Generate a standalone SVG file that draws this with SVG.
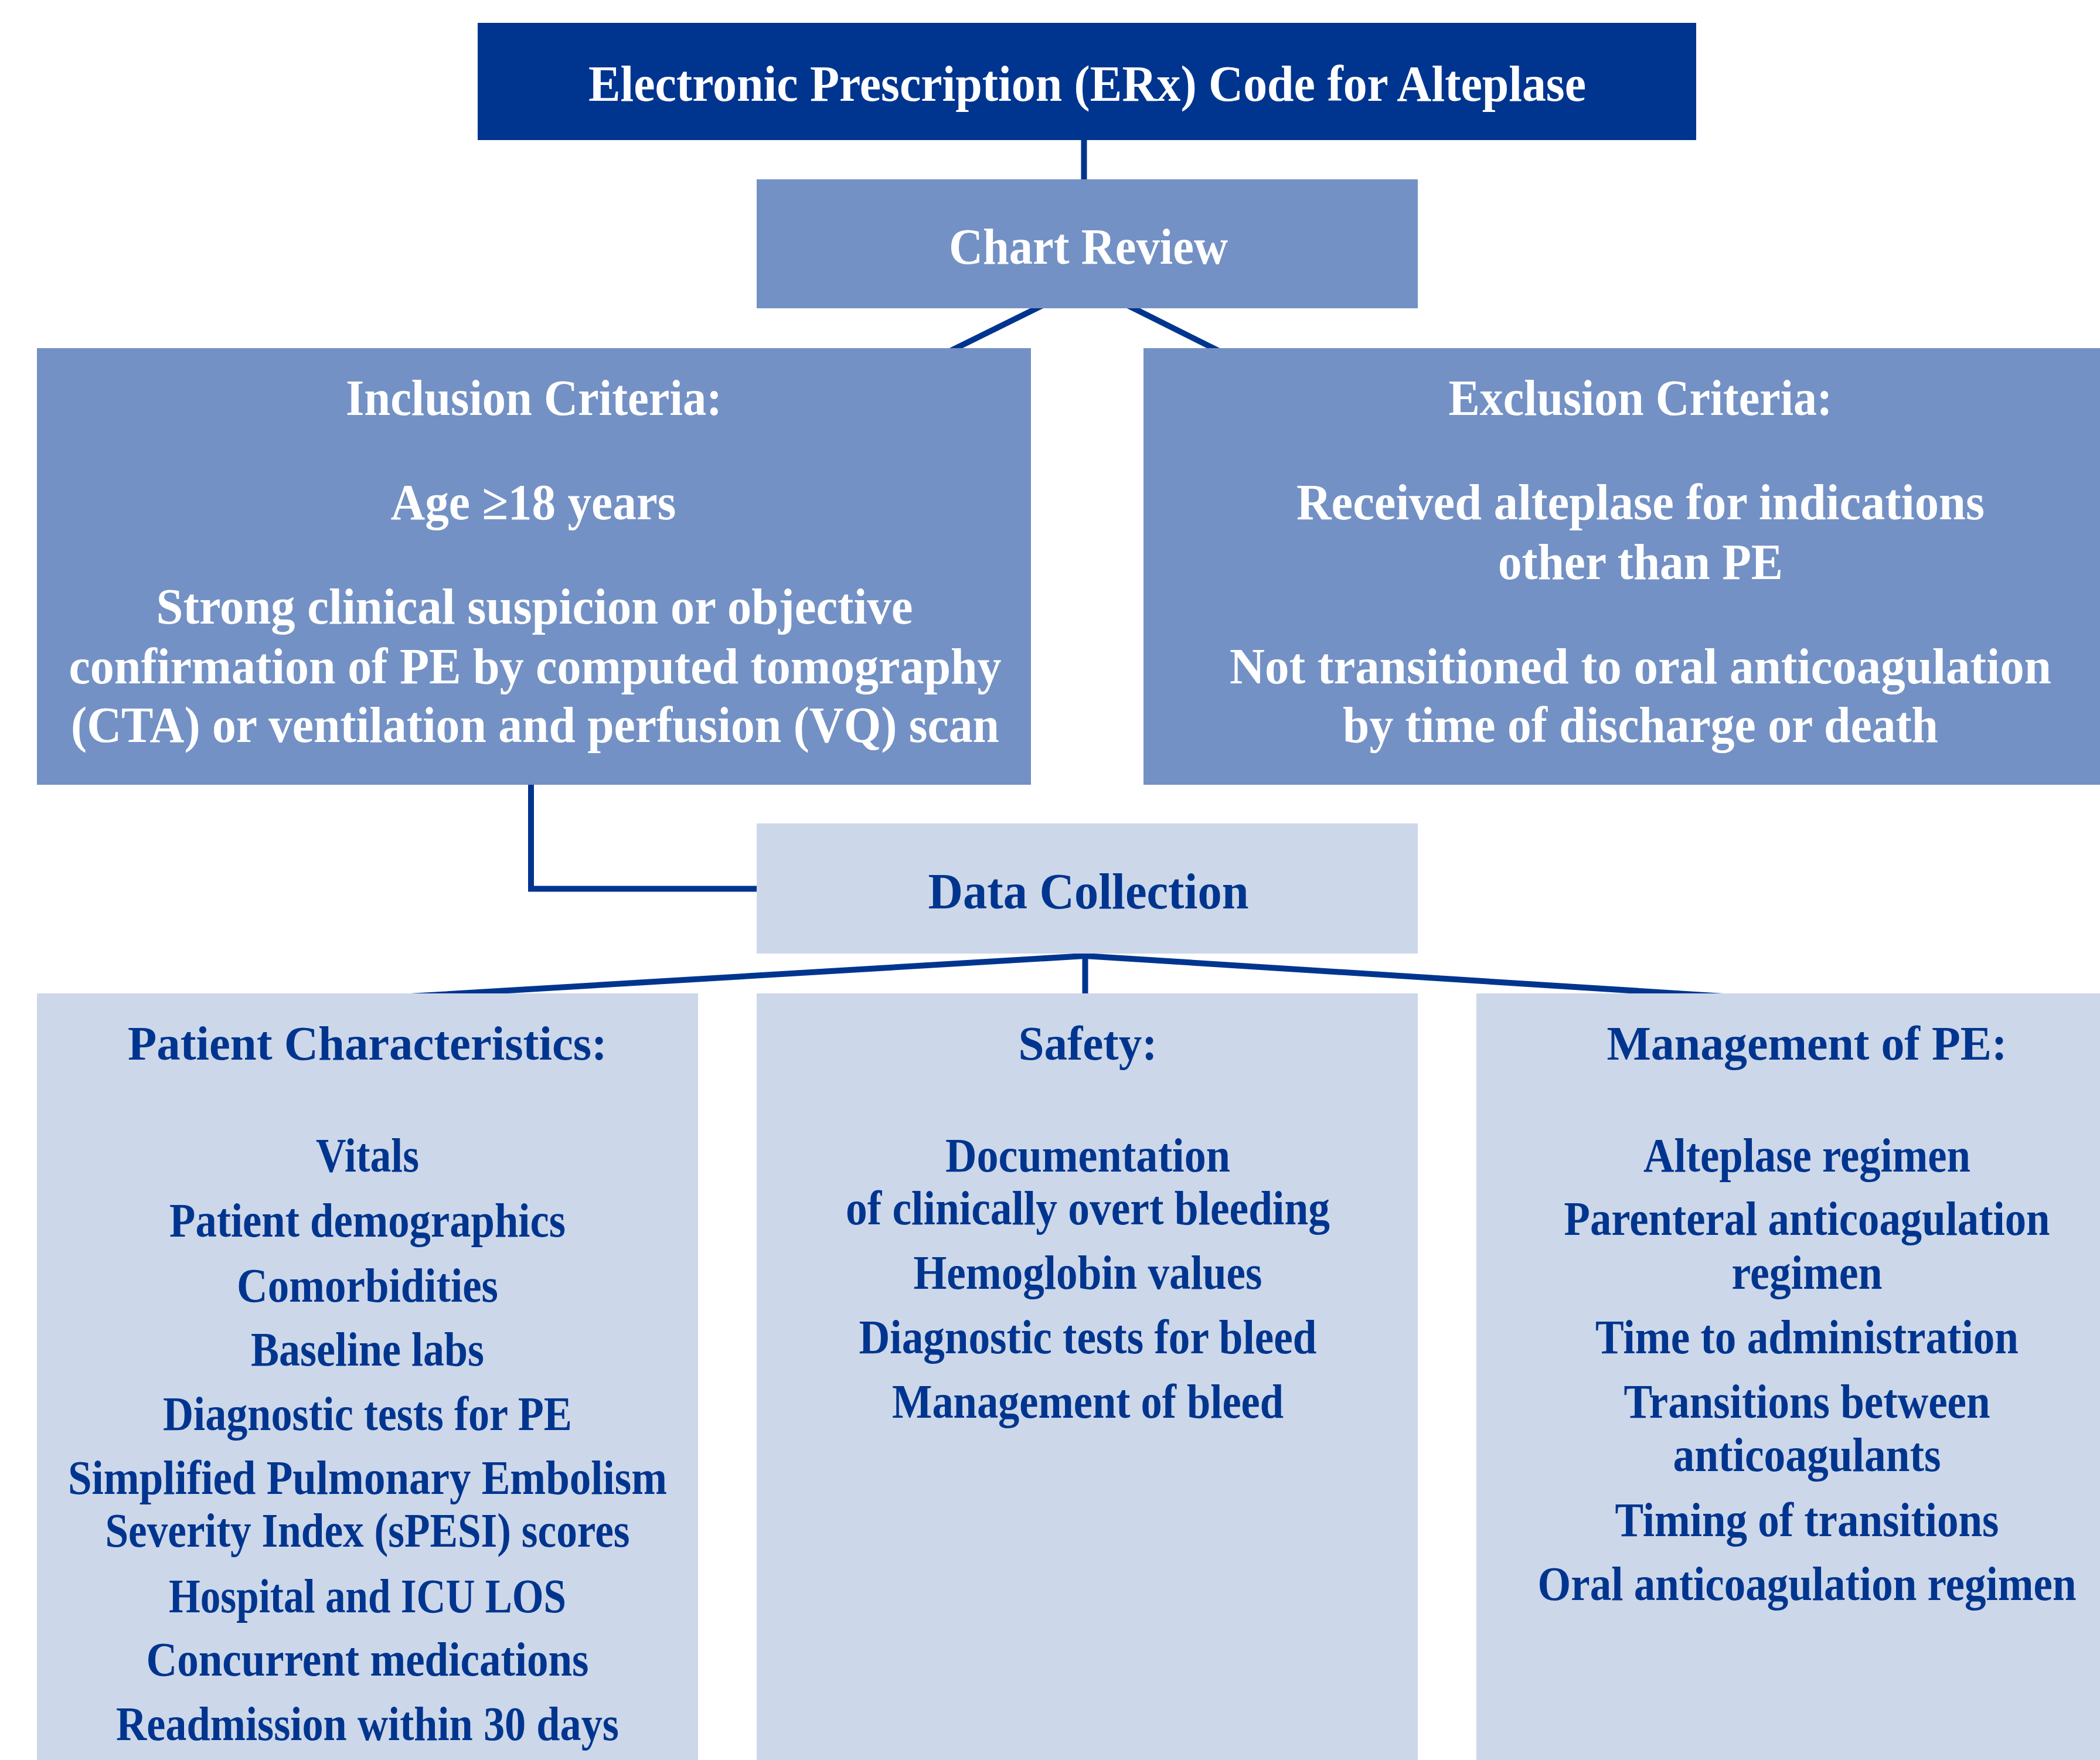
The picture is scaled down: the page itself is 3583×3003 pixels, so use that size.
<svg xmlns="http://www.w3.org/2000/svg" width="3583" height="3003" viewBox="0 0 3583 3003">
<style>
.dark{fill:#00358F}
.mid{fill:#7391C5}
.light{fill:#CCD7E9}
text{font-family:"Liberation Serif","Times New Roman",serif;font-weight:bold;text-anchor:middle}
.w{fill:#FFFFFF;font-size:86px}
.b{fill:#00358F;font-size:86px}
.s{fill:#00358F;font-size:82px}
.con{stroke:#00358F;stroke-width:10;fill:none}
</style>
<rect x="0" y="0" width="3583" height="3003" fill="#FFFFFF"/>
<g id="connectors">
<line class="con" x1="1849.5" y1="235" x2="1849.5" y2="310"/>
<line class="con" x1="1779" y1="521" x2="1621" y2="599"/>
<line class="con" x1="1924" y1="521" x2="2080" y2="599"/>
<polyline class="con" points="906,1335 906,1516.5 1295,1516.5"/>
<line class="con" x1="1851.5" y1="1620" x2="1851.5" y2="1700"/>
<polyline class="con" points="700,1700 1851,1631 2940,1700"/>
</g>
<g id="node-erx">
<rect class="dark" x="815" y="39" width="2079" height="200"/>
<text class="w" x="1855" y="172" textLength="1702" lengthAdjust="spacingAndGlyphs">Electronic Prescription (ERx) Code for Alteplase</text>
</g>
<g id="node-chart-review">
<rect class="mid" x="1291" y="306" width="1128" height="220"/>
<text class="w" x="1857" y="450" textLength="476" lengthAdjust="spacingAndGlyphs">Chart Review</text>
</g>
<g id="node-inclusion">
<rect class="mid" x="63" y="594" width="1696" height="745"/>
<text class="w" x="911" y="708" textLength="642" lengthAdjust="spacingAndGlyphs">Inclusion Criteria:</text>
<text class="w" x="910" y="886" textLength="487" lengthAdjust="spacingAndGlyphs">Age ≥18 years</text>
<text class="w" x="912" y="1064" textLength="1291" lengthAdjust="spacingAndGlyphs">Strong clinical suspicion or objective</text>
<text class="w" x="913" y="1166" textLength="1591" lengthAdjust="spacingAndGlyphs">confirmation of PE by computed tomography</text>
<text class="w" x="913" y="1266" textLength="1584" lengthAdjust="spacingAndGlyphs">(CTA) or ventilation and perfusion (VQ) scan</text>
</g>
<g id="node-exclusion">
<rect class="mid" x="1951" y="594" width="1696" height="745"/>
<text class="w" x="2799" y="708" textLength="655" lengthAdjust="spacingAndGlyphs">Exclusion Criteria:</text>
<text class="w" x="2799" y="886" textLength="1174" lengthAdjust="spacingAndGlyphs">Received alteplase for indications</text>
<text class="w" x="2799" y="988" textLength="486" lengthAdjust="spacingAndGlyphs">other than PE</text>
<text class="w" x="2799" y="1166" textLength="1402" lengthAdjust="spacingAndGlyphs">Not transitioned to oral anticoagulation</text>
<text class="w" x="2799" y="1266" textLength="1016" lengthAdjust="spacingAndGlyphs">by time of discharge or death</text>
</g>
<g id="node-data-collection">
<rect class="light" x="1291" y="1405" width="1128" height="222"/>
<text class="b" x="1857" y="1550" textLength="547" lengthAdjust="spacingAndGlyphs">Data Collection</text>
</g>
<g id="node-patient">
<rect class="light" x="63" y="1695" width="1128" height="1308"/>
<text class="s" x="627" y="1808" textLength="818" lengthAdjust="spacingAndGlyphs">Patient Characteristics:</text>
<text class="s" x="627" y="1999" textLength="176" lengthAdjust="spacingAndGlyphs">Vitals</text>
<text class="s" x="627" y="2110" textLength="676" lengthAdjust="spacingAndGlyphs">Patient demographics</text>
<text class="s" x="627" y="2221" textLength="446" lengthAdjust="spacingAndGlyphs">Comorbidities</text>
<text class="s" x="627" y="2330" textLength="398" lengthAdjust="spacingAndGlyphs">Baseline labs</text>
<text class="s" x="627" y="2440" textLength="698" lengthAdjust="spacingAndGlyphs">Diagnostic tests for PE</text>
<text class="s" x="627" y="2549" textLength="1022" lengthAdjust="spacingAndGlyphs">Simplified Pulmonary Embolism</text>
<text class="s" x="627" y="2639" textLength="895" lengthAdjust="spacingAndGlyphs">Severity Index (sPESI) scores</text>
<text class="s" x="627" y="2751" textLength="678" lengthAdjust="spacingAndGlyphs">Hospital and ICU LOS</text>
<text class="s" x="627" y="2859" textLength="755" lengthAdjust="spacingAndGlyphs">Concurrent medications</text>
<text class="s" x="627" y="2969" textLength="858" lengthAdjust="spacingAndGlyphs">Readmission within 30 days</text>
</g>
<g id="node-safety">
<rect class="light" x="1291" y="1695" width="1128" height="1308"/>
<text class="s" x="1856" y="1808" textLength="237" lengthAdjust="spacingAndGlyphs">Safety:</text>
<text class="s" x="1856" y="1999" textLength="486" lengthAdjust="spacingAndGlyphs">Documentation</text>
<text class="s" x="1856" y="2089" textLength="826" lengthAdjust="spacingAndGlyphs">of clinically overt bleeding</text>
<text class="s" x="1856" y="2199" textLength="595" lengthAdjust="spacingAndGlyphs">Hemoglobin values</text>
<text class="s" x="1856" y="2309" textLength="781" lengthAdjust="spacingAndGlyphs">Diagnostic tests for bleed</text>
<text class="s" x="1856" y="2419" textLength="668" lengthAdjust="spacingAndGlyphs">Management of bleed</text>
</g>
<g id="node-management">
<rect class="light" x="2519" y="1695" width="1128" height="1308"/>
<text class="s" x="3083" y="1808" textLength="683" lengthAdjust="spacingAndGlyphs">Management of PE:</text>
<text class="s" x="3083" y="1999" textLength="558" lengthAdjust="spacingAndGlyphs">Alteplase regimen</text>
<text class="s" x="3083" y="2107" textLength="829" lengthAdjust="spacingAndGlyphs">Parenteral anticoagulation</text>
<text class="s" x="3083" y="2199" textLength="257" lengthAdjust="spacingAndGlyphs">regimen</text>
<text class="s" x="3083" y="2309" textLength="722" lengthAdjust="spacingAndGlyphs">Time to administration</text>
<text class="s" x="3083" y="2419" textLength="625" lengthAdjust="spacingAndGlyphs">Transitions between</text>
<text class="s" x="3083" y="2510" textLength="457" lengthAdjust="spacingAndGlyphs">anticoagulants</text>
<text class="s" x="3083" y="2621" textLength="655" lengthAdjust="spacingAndGlyphs">Timing of transitions</text>
<text class="s" x="3083" y="2730" textLength="919" lengthAdjust="spacingAndGlyphs">Oral anticoagulation regimen</text>
</g>
</svg>
